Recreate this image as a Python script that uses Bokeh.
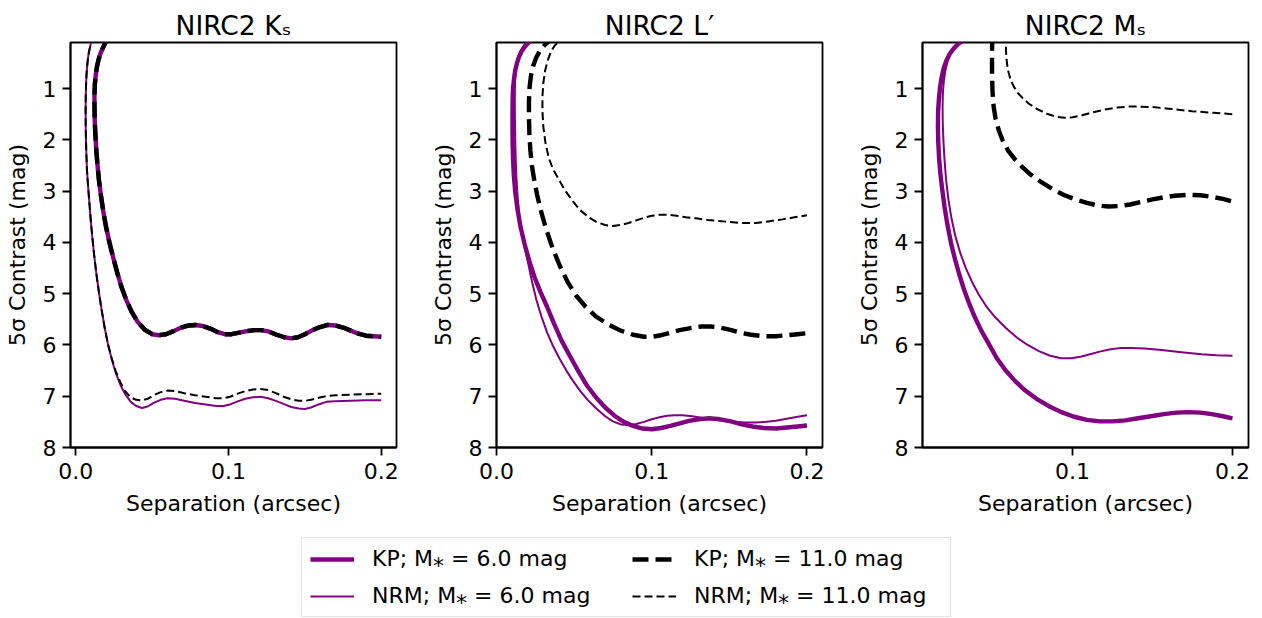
import numpy as np
from bokeh.plotting import figure
from bokeh.models import Range1d, FixedTicker, Legend, LegendItem, ColumnDataSource, NumeralTickFormatter
from bokeh.layouts import column, row
from bokeh.embed import file_html
from bokeh.resources import INLINE

PURPLE = "#800080"
FONT = "DejaVu Sans"

titles = ["NIRC2 Kₛ", "NIRC2 L′", "NIRC2 Mₛ"]
labels = ["KP; M⁎ = 6.0 mag", "NRM; M⁎ = 6.0 mag", "KP; M⁎ = 11.0 mag", "NRM; M⁎ = 11.0 mag"]
x_label = "Separation (arcsec)"
y_label = "5σ Contrast (mag)"
y_ticks = [1, 2, 3, 4, 5, 6, 7, 8]

# ---------------- NIRC2 Ks ----------------
ks_kp6_x = [0.0210, 0.0194, 0.0178, 0.0163, 0.0150, 0.0139, 0.0131, 0.0125, 0.0122, 0.0122, 0.0124, 0.0128,
            0.0134, 0.0142, 0.0152, 0.0165, 0.0180, 0.0198, 0.0220, 0.0245, 0.0272, 0.0300, 0.0330, 0.0365,
            0.0405, 0.0450, 0.0500, 0.0545, 0.0590, 0.0640, 0.0690, 0.0740, 0.0785, 0.0830, 0.0880, 0.0930,
            0.0975, 0.1020, 0.1070, 0.1120, 0.1170, 0.1215, 0.1265, 0.1315, 0.1365, 0.1410, 0.1455, 0.1500,
            0.1550, 0.1600, 0.1650, 0.1700, 0.1750, 0.1800, 0.1850, 0.1900, 0.1950, 0.2000]
ks_kp6_y = [-0.05, 0.10, 0.20, 0.30, 0.42, 0.56, 0.72, 0.90, 1.10, 1.35, 1.65, 1.90,
            2.20, 2.50, 2.80, 3.10, 3.40, 3.70, 4.00, 4.30, 4.60, 4.88, 5.12, 5.35,
            5.55, 5.70, 5.79, 5.81, 5.79, 5.73, 5.66, 5.62, 5.61, 5.63, 5.68, 5.75,
            5.79, 5.79, 5.76, 5.73, 5.71, 5.71, 5.74, 5.80, 5.85, 5.87, 5.85, 5.79,
            5.71, 5.65, 5.61, 5.62, 5.66, 5.72, 5.78, 5.82, 5.83, 5.84]
ks_kp11_x = [0.0210, 0.0194, 0.0178, 0.0163, 0.0150, 0.0139, 0.0131, 0.0125, 0.0122, 0.0122, 0.0124, 0.0128,
             0.0134, 0.0142, 0.0152, 0.0165, 0.0180, 0.0198, 0.0220, 0.0245, 0.0272, 0.0300, 0.0330, 0.0365,
             0.0405, 0.0450, 0.0500, 0.0545, 0.0590, 0.0640, 0.0690, 0.0740, 0.0785, 0.0830, 0.0880, 0.0930,
             0.0975, 0.1020, 0.1070, 0.1120, 0.1170, 0.1215, 0.1265, 0.1315, 0.1365, 0.1410, 0.1455, 0.1500,
             0.1550, 0.1600, 0.1650, 0.1700, 0.1750, 0.1800, 0.1850, 0.1900, 0.1950, 0.2000]
ks_kp11_y = [-0.05, 0.10, 0.20, 0.30, 0.42, 0.56, 0.72, 0.90, 1.10, 1.35, 1.65, 1.90,
             2.20, 2.50, 2.80, 3.10, 3.40, 3.70, 4.00, 4.30, 4.60, 4.88, 5.12, 5.35,
             5.55, 5.70, 5.79, 5.81, 5.79, 5.73, 5.66, 5.62, 5.61, 5.63, 5.68, 5.75,
             5.79, 5.79, 5.76, 5.73, 5.71, 5.71, 5.74, 5.80, 5.85, 5.87, 5.85, 5.79,
             5.71, 5.65, 5.61, 5.62, 5.66, 5.72, 5.78, 5.82, 5.83, 5.84]
ks_nrm6_x = [0.0108, 0.0100, 0.0092, 0.0085, 0.0079, 0.0074, 0.0070, 0.0067, 0.0065, 0.0064, 0.0065, 0.0068,
             0.0073, 0.0080, 0.0088, 0.0097, 0.0108, 0.0120, 0.0134, 0.0150, 0.0168, 0.0188, 0.0210, 0.0235,
             0.0262, 0.0292, 0.0325, 0.0360, 0.0395, 0.0433, 0.0470, 0.0510, 0.0555, 0.0600, 0.0650, 0.0710,
             0.0780, 0.0850, 0.0920, 0.0966, 0.1010, 0.1060, 0.1110, 0.1160, 0.1210, 0.1260, 0.1310, 0.1360,
             0.1410, 0.1460, 0.1500, 0.1540, 0.1590, 0.1640, 0.1700, 0.1800, 0.1900, 0.2000]
ks_nrm6_y = [-0.05, 0.10, 0.20, 0.30, 0.42, 0.56, 0.72, 0.92, 1.15, 1.45, 1.80, 2.20,
             2.60, 2.90, 3.20, 3.55, 3.90, 4.25, 4.60, 4.95, 5.30, 5.65, 5.98, 6.28,
             6.55, 6.78, 6.97, 7.11, 7.19, 7.23, 7.20, 7.13, 7.07, 7.04, 7.05, 7.09,
             7.13, 7.16, 7.19, 7.19, 7.16, 7.10, 7.05, 7.02, 7.01, 7.04, 7.09, 7.15,
             7.21, 7.24, 7.25, 7.22, 7.16, 7.11, 7.10, 7.09, 7.08, 7.08]
ks_nrm11_x = [0.0108, 0.0100, 0.0092, 0.0085, 0.0079, 0.0074, 0.0070, 0.0067, 0.0065, 0.0064, 0.0065, 0.0068,
              0.0073, 0.0080, 0.0088, 0.0097, 0.0108, 0.0120, 0.0134, 0.0150, 0.0168, 0.0188, 0.0210, 0.0234,
              0.0260, 0.0290, 0.0322, 0.0358, 0.0395, 0.0433, 0.0470, 0.0510, 0.0555, 0.0600, 0.0650, 0.0710,
              0.0780, 0.0850, 0.0920, 0.0960, 0.1010, 0.1060, 0.1110, 0.1160, 0.1210, 0.1260, 0.1310, 0.1360,
              0.1410, 0.1460, 0.1500, 0.1540, 0.1590, 0.1640, 0.1700, 0.1800, 0.1900, 0.2000]
ks_nrm11_y = [-0.05, 0.10, 0.20, 0.30, 0.42, 0.56, 0.72, 0.92, 1.15, 1.45, 1.80, 2.20,
              2.60, 2.90, 3.20, 3.55, 3.90, 4.25, 4.60, 4.95, 5.30, 5.65, 5.98, 6.25,
              6.50, 6.72, 6.90, 7.02, 7.07, 7.08, 7.05, 6.98, 6.92, 6.89, 6.90, 6.94,
              6.98, 7.01, 7.04, 7.04, 7.01, 6.95, 6.90, 6.87, 6.86, 6.88, 6.94, 7.01,
              7.06, 7.09, 7.09, 7.07, 7.03, 7.00, 6.98, 6.97, 6.96, 6.95]

# ---------------- NIRC2 L' ----------------
lp_kp6_x = [0.0255, 0.0225, 0.0200, 0.0178, 0.0160, 0.0145, 0.0132, 0.0121, 0.0113, 0.0107, 0.0104, 0.0103,
            0.0103, 0.0104, 0.0107, 0.0112, 0.0120, 0.0135, 0.0155, 0.0180, 0.0210, 0.0245, 0.0285, 0.0325,
            0.0370, 0.0420, 0.0470, 0.0525, 0.0580, 0.0640, 0.0700, 0.0760, 0.0820, 0.0880, 0.0940, 0.1000,
            0.1060, 0.1120, 0.1180, 0.1240, 0.1300, 0.1370, 0.1440, 0.1510, 0.1580, 0.1650, 0.1720, 0.1800,
            0.1870, 0.1940, 0.2000]
lp_kp6_y = [-0.05, 0.06, 0.12, 0.20, 0.28, 0.38, 0.50, 0.64, 0.80, 0.98, 1.20, 1.50,
            1.80, 2.10, 2.40, 2.70, 3.00, 3.35, 3.70, 4.02, 4.35, 4.68, 4.98, 5.25,
            5.58, 5.92, 6.20, 6.50, 6.78, 7.02, 7.22, 7.38, 7.50, 7.58, 7.63, 7.645,
            7.62, 7.58, 7.53, 7.48, 7.45, 7.43, 7.45, 7.49, 7.55, 7.59, 7.62, 7.63,
            7.61, 7.59, 7.57]
lp_nrm6_x = [0.0235, 0.0204, 0.0180, 0.0160, 0.0145, 0.0133, 0.0125, 0.0120, 0.0118, 0.0118, 0.0119, 0.0121,
             0.0124, 0.0129, 0.0137, 0.0148, 0.0163, 0.0182, 0.0205, 0.0230, 0.0257, 0.0290, 0.0325, 0.0364,
             0.0405, 0.0450, 0.0493, 0.0540, 0.0590, 0.0643, 0.0700, 0.0750, 0.0800, 0.0850, 0.0900, 0.0950,
             0.1000, 0.1050, 0.1100, 0.1150, 0.1200, 0.1260, 0.1320, 0.1393, 0.1460, 0.1530, 0.1600, 0.1670,
             0.1740, 0.1800, 0.1870, 0.1940, 0.2000]
lp_nrm6_y = [-0.05, 0.06, 0.14, 0.24, 0.35, 0.48, 0.64, 0.82, 1.05, 1.35, 1.70, 2.05,
             2.40, 2.78, 3.15, 3.50, 3.82, 4.10, 4.42, 4.78, 5.12, 5.45, 5.75, 6.02,
             6.26, 6.50, 6.70, 6.90, 7.08, 7.24, 7.39, 7.49, 7.55, 7.56, 7.54, 7.50,
             7.45, 7.41, 7.38, 7.37, 7.37, 7.39, 7.42, 7.45, 7.48, 7.50, 7.51, 7.51,
             7.50, 7.48, 7.44, 7.40, 7.37]
lp_kp11_x = [0.0375, 0.0343, 0.0310, 0.0280, 0.0255, 0.0236, 0.0222, 0.0213, 0.0209, 0.0209, 0.0212, 0.0218,
             0.0228, 0.0244, 0.0265, 0.0292, 0.0322, 0.0360, 0.0407, 0.0460, 0.0514, 0.0575, 0.0643, 0.0720,
             0.0800, 0.0880, 0.0950, 0.1000, 0.1060, 0.1120, 0.1180, 0.1250, 0.1320, 0.1380, 0.1440, 0.1500,
             0.1570, 0.1640, 0.1720, 0.1800, 0.1870, 0.1940, 0.2000]
lp_kp11_y = [-0.05, 0.06, 0.15, 0.26, 0.40, 0.56, 0.75, 0.98, 1.25, 1.55, 1.90, 2.20,
             2.50, 2.80, 3.12, 3.45, 3.76, 4.10, 4.45, 4.78, 5.04, 5.26, 5.45, 5.60,
             5.72, 5.80, 5.84, 5.84, 5.81, 5.76, 5.71, 5.67, 5.64, 5.64, 5.66, 5.70,
             5.76, 5.80, 5.83, 5.83, 5.81, 5.79, 5.77]
lp_nrm11_x = [0.0445, 0.0407, 0.0375, 0.0350, 0.0330, 0.0313, 0.0302, 0.0296, 0.0296, 0.0302, 0.0315, 0.0335,
              0.0362, 0.0397, 0.0440, 0.0485, 0.0535, 0.0590, 0.0643, 0.0700, 0.0750, 0.0800, 0.0850, 0.0900,
              0.0950, 0.1000, 0.1050, 0.1100, 0.1160, 0.1220, 0.1286, 0.1360, 0.1430, 0.1500, 0.1580, 0.1672,
              0.1750, 0.1843, 0.1920, 0.2000]
lp_nrm11_y = [-0.05, 0.06, 0.16, 0.28, 0.45, 0.65, 0.88, 1.15, 1.45, 1.75, 2.05, 2.33,
              2.56, 2.75, 2.98, 3.17, 3.36, 3.50, 3.60, 3.66, 3.68, 3.66, 3.62, 3.57,
              3.52, 3.48, 3.46, 3.46, 3.48, 3.51, 3.53, 3.56, 3.58, 3.60, 3.62, 3.62,
              3.59, 3.55, 3.51, 3.47]

# ---------------- NIRC2 Ms ----------------
ms_kp6_x = [0.0365, 0.0319, 0.0285, 0.0257, 0.0233, 0.0212, 0.0195, 0.0182, 0.0172, 0.0165, 0.0160, 0.0159,
            0.0161, 0.0166, 0.0174, 0.0185, 0.0200, 0.0218, 0.0240, 0.0265, 0.0292, 0.0322, 0.0355, 0.0390,
            0.0430, 0.0475, 0.0525, 0.0580, 0.0640, 0.0705, 0.0775, 0.0850, 0.0930, 0.1010, 0.1090, 0.1170,
            0.1250, 0.1330, 0.1410, 0.1490, 0.1570, 0.1650, 0.1725, 0.1800, 0.1870, 0.1940, 0.2000]
ms_kp6_y = [-0.05, 0.06, 0.13, 0.22, 0.32, 0.45, 0.60, 0.78, 0.98, 1.20, 1.45, 1.75,
            2.05, 2.35, 2.65, 2.95, 3.30, 3.65, 4.00, 4.32, 4.62, 4.92, 5.20, 5.46,
            5.72, 5.97, 6.25, 6.49, 6.70, 6.89, 7.05, 7.19, 7.31, 7.40, 7.46, 7.49,
            7.49, 7.47, 7.43, 7.39, 7.35, 7.32, 7.31, 7.32, 7.35, 7.39, 7.43]
ms_nrm6_x = [0.0345, 0.0308, 0.0278, 0.0255, 0.0235, 0.0218, 0.0205, 0.0196, 0.0190, 0.0188, 0.0189, 0.0193,
             0.0200, 0.0210, 0.0224, 0.0243, 0.0268, 0.0298, 0.0333, 0.0372, 0.0415, 0.0462, 0.0517, 0.0580,
             0.0650, 0.0720, 0.0790, 0.0860, 0.0930, 0.0990, 0.1050, 0.1110, 0.1170, 0.1230, 0.1300, 0.1370,
             0.1450, 0.1558, 0.1680, 0.1808, 0.1900, 0.2000]
ms_nrm6_y = [-0.05, 0.06, 0.14, 0.23, 0.34, 0.48, 0.65, 0.85, 1.08, 1.35, 1.65, 2.00,
             2.38, 2.78, 3.15, 3.52, 3.88, 4.20, 4.50, 4.77, 5.02, 5.25, 5.46, 5.66,
             5.85, 6.00, 6.12, 6.21, 6.26, 6.26, 6.23, 6.18, 6.13, 6.09, 6.06, 6.06,
             6.07, 6.10, 6.14, 6.18, 6.20, 6.21]
ms_kp11_x = [0.0499, 0.0497, 0.0497, 0.0500, 0.0507, 0.0520, 0.0540, 0.0565, 0.0600, 0.0640, 0.0683, 0.0740,
             0.0808, 0.0880, 0.0950, 0.1017, 0.1090, 0.1160, 0.1225, 0.1290, 0.1360, 0.1430, 0.1500, 0.1570,
             0.1640, 0.1725, 0.1800, 0.1870, 0.1940, 0.2000]
ms_kp11_y = [-0.05, 0.30, 0.70, 1.05, 1.35, 1.60, 1.82, 2.02, 2.22, 2.38, 2.52, 2.68,
             2.83, 2.97, 3.08, 3.16, 3.23, 3.28, 3.30, 3.29, 3.26, 3.21, 3.16, 3.12,
             3.09, 3.07, 3.08, 3.11, 3.15, 3.20]
ms_nrm11_x = [0.0582, 0.0583, 0.0585, 0.0590, 0.0600, 0.0615, 0.0635, 0.0660, 0.0690, 0.0730, 0.0780, 0.0840,
              0.0900, 0.0950, 0.1000, 0.1060, 0.1130, 0.1200, 0.1280, 0.1350, 0.1413, 0.1500, 0.1600, 0.1746,
              0.1880, 0.2000]
ms_nrm11_y = [-0.05, 0.06, 0.30, 0.50, 0.68, 0.84, 0.97, 1.09, 1.19, 1.30, 1.40, 1.49,
              1.55, 1.57, 1.56, 1.52, 1.46, 1.41, 1.37, 1.35, 1.35, 1.36, 1.39, 1.44,
              1.47, 1.50]

panels = [
    dict(title=titles[0], xr=(-0.0035, 0.21), xt=[0.0, 0.1, 0.2], lb=70, rb=31,
         series=[(ks_kp6_x, ks_kp6_y), (ks_nrm6_x, ks_nrm6_y), (ks_kp11_x, ks_kp11_y), (ks_nrm11_x, ks_nrm11_y)]),
    dict(title=titles[1], xr=(0.0, 0.21), xt=[0.0, 0.1, 0.2], lb=66, rb=31,
         series=[(lp_kp6_x, lp_kp6_y), (lp_nrm6_x, lp_nrm6_y), (lp_kp11_x, lp_kp11_y), (lp_nrm11_x, lp_nrm11_y)]),
    dict(title=titles[2], xr=(0.00625, 0.21), xt=[0.1, 0.2], lb=67, rb=3,
         series=[(ms_kp6_x, ms_kp6_y), (ms_nrm6_x, ms_nrm6_y), (ms_kp11_x, ms_kp11_y), (ms_nrm11_x, ms_nrm11_y)]),
]

styles = [
    dict(line_color=PURPLE, line_width=4.4, line_join="round"),
    dict(line_color=PURPLE, line_width=2.0, line_join="round"),
    dict(line_color="black", line_width=4.4, line_dash="16 7", line_join="round"),
    dict(line_color="black", line_width=2.0, line_dash="8 4", line_join="round"),
]

figs = []
for pan in panels:
    p = figure(frame_width=326, frame_height=405,
               x_range=Range1d(*pan["xr"]), y_range=Range1d(8.0, 0.1),
               output_backend="svg", toolbar_location=None, title=pan["title"],
               min_border_left=pan["lb"], min_border_right=pan["rb"],
               min_border_top=42, min_border_bottom=73)
    p.title.align = "center"
    p.title.text_font = FONT
    p.title.text_font_size = "26.5px"
    p.title.text_font_style = "normal"
    p.title.text_color = "black"
    p.title.standoff = 4
    p.grid.visible = False
    p.outline_line_color = "black"
    p.outline_line_width = 1.8
    p.outline_line_alpha = 1.0
    p.xaxis.ticker = FixedTicker(ticks=pan["xt"])
    p.yaxis.ticker = FixedTicker(ticks=y_ticks)
    p.xaxis.formatter = NumeralTickFormatter(format="0.0")
    p.yaxis.formatter = NumeralTickFormatter(format="0")
    p.xaxis.axis_label = x_label
    p.yaxis.axis_label = y_label
    for ax in (p.xaxis[0], p.yaxis[0]):
        ax.axis_line_width = 1.8
        ax.major_tick_line_width = 1.8
        ax.major_tick_out = 8
        ax.major_tick_in = 0
        ax.minor_tick_line_color = None
        ax.major_label_standoff = 6
        ax.major_label_text_font = FONT
        ax.major_label_text_font_size = "22px"
        ax.major_label_text_color = "black"
        ax.axis_label_text_font = FONT
        ax.axis_label_text_font_size = "22px"
        ax.axis_label_text_font_style = "normal"
        ax.axis_label_text_color = "black"
    p.xaxis.major_label_standoff = 7
    p.xaxis.axis_label_standoff = 9
    p.yaxis.axis_label_standoff = 10
    for (xs, ys), st in zip(pan["series"], styles):
        p.line(xs, ys, **st)
    figs.append(p)

# legend figure (legend renderers hold no visible data)
lf = figure(width=1246, height=97, x_range=Range1d(0, 1), y_range=Range1d(0, 1),
            output_backend="svg", toolbar_location=None,
            x_axis_location=None, y_axis_location=None, min_border=0)
lf.grid.visible = False
lf.outline_line_color = None
rends = []
for st in styles:
    src = ColumnDataSource(data=dict(x=np.array([np.nan]), y=np.array([np.nan])))
    rends.append(lf.line("x", "y", source=src, **st))
legend = Legend(items=[LegendItem(label=lab, renderers=[r]) for lab, r in zip(labels, rends)],
                ncols=2, location=(301, 0))
legend.label_text_font = FONT
legend.label_text_font_size = "22px"
legend.label_text_color = "black"
legend.glyph_width = 44
legend.glyph_height = 24
legend.label_standoff = 18
legend.label_width = 248
legend.spacing = 12
legend.padding = 8
legend.margin = 0
legend.border_line_color = "#cccccc"
legend.border_line_width = 1.5
legend.background_fill_alpha = 1.0
lf.add_layout(legend)

layout = column(row(*figs, spacing=0), lf, spacing=0)
open("out.html", "w").write(file_html(layout, INLINE))
